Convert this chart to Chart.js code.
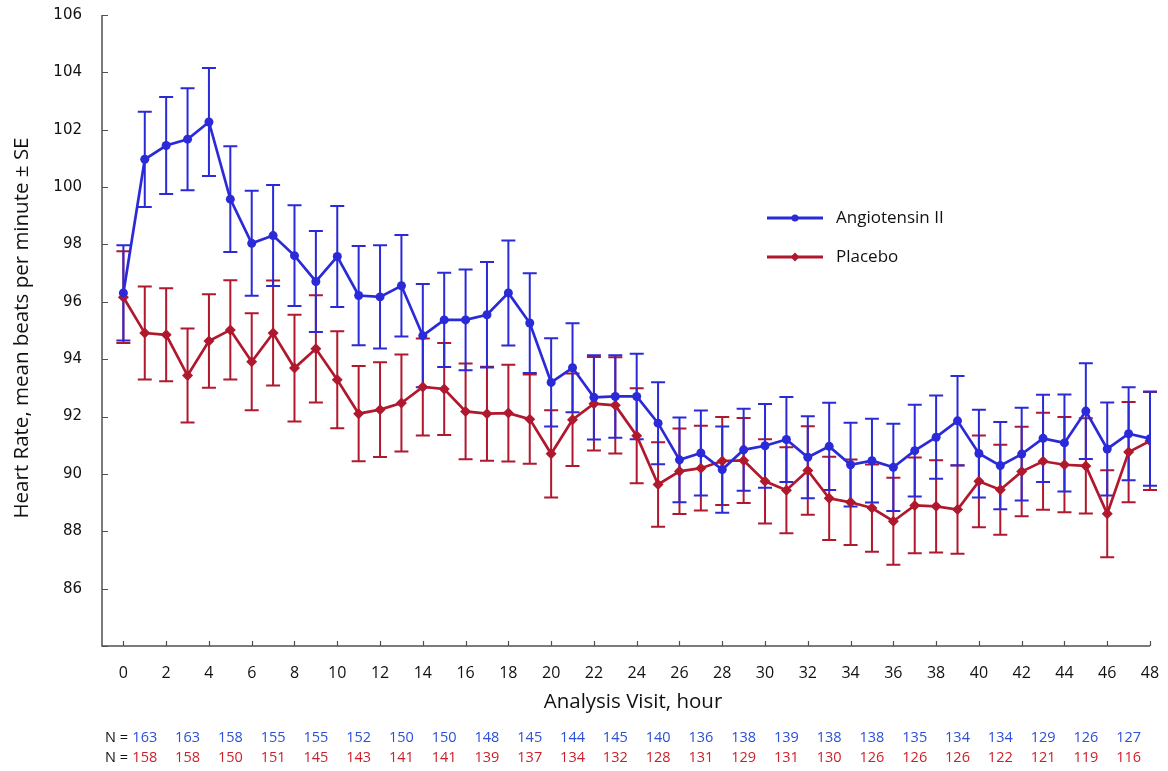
<!DOCTYPE html>
<html>
<head>
<meta charset="utf-8">
<script src="https://cdn.jsdelivr.net/npm/chart.js@4.4.1/dist/chart.umd.min.js"></script>
<style>
html,body{margin:0;padding:0;background:#fff;}
#wrap{position:relative;width:1168px;height:771px;}
</style>
</head>
<body>
<div id="wrap"><canvas id="c" width="1168" height="771"></canvas></div>
<script>
const hours = [0,1,2,3,4,5,6,7,8,9,10,11,12,13,14,15,16,17,18,19,20,21,22,23,24,25,26,27,28,29,30,31,32,33,34,35,36,37,38,39,40,41,42,43,44,45,46,47,48];
const angiotensinMean = [96.31,100.97,101.45,101.67,102.27,99.58,98.04,98.31,97.61,96.71,97.58,96.22,96.17,96.56,94.82,95.37,95.37,95.55,96.31,95.26,93.19,93.70,92.67,92.70,92.70,91.77,90.49,90.73,90.15,90.84,90.98,91.20,90.58,90.96,90.32,90.46,90.23,90.81,91.28,91.85,90.71,90.29,90.69,91.24,91.08,92.19,90.87,91.40,91.23];
const angiotensinSE = [1.66,1.66,1.69,1.78,1.88,1.84,1.83,1.76,1.76,1.76,1.76,1.73,1.80,1.77,1.80,1.64,1.76,1.84,1.83,1.74,1.54,1.55,1.47,1.44,1.49,1.43,1.48,1.48,1.50,1.43,1.46,1.48,1.43,1.52,1.46,1.46,1.52,1.60,1.45,1.56,1.53,1.52,1.62,1.52,1.69,1.67,1.62,1.62,1.64];
const placeboMean = [96.16,94.91,94.85,93.43,94.63,95.02,93.91,94.91,93.69,94.36,93.28,92.10,92.24,92.47,93.03,92.96,92.18,92.10,92.12,91.91,90.70,91.89,92.45,92.39,91.33,89.63,90.09,90.20,90.45,90.47,89.74,89.43,90.12,89.15,89.01,88.81,88.35,88.90,88.87,88.76,89.74,89.45,90.08,90.44,90.32,90.28,88.61,90.76,91.15];
const placeboSE = [1.60,1.62,1.62,1.64,1.63,1.73,1.69,1.83,1.86,1.87,1.69,1.66,1.65,1.69,1.69,1.60,1.67,1.64,1.69,1.56,1.52,1.61,1.63,1.68,1.66,1.47,1.49,1.48,1.53,1.48,1.47,1.50,1.54,1.45,1.49,1.52,1.52,1.67,1.61,1.54,1.60,1.57,1.56,1.69,1.66,1.66,1.52,1.75,1.71];
const xTickValues = [0,2,4,6,8,10,12,14,16,18,20,22,24,26,28,30,32,34,36,38,40,42,44,46,48];
const yTickValues = [84,86,88,90,92,94,96,98,100,102,104,106];
const nHours = [1,3,5,7,9,11,13,15,17,19,21,23,25,27,29,31,33,35,37,39,41,43,45,47];
const angiotensinN = [163,163,158,155,155,152,150,150,148,145,144,145,140,136,138,139,138,138,135,134,134,129,126,127];
const placeboN = [158,158,150,151,145,143,141,141,139,137,134,132,128,131,129,131,130,126,126,126,122,121,119,116];

const BLUE = '#2a2ad8';
const RED = '#b0182e';
const BLUE_TXT = '#2a4fd8';
const RED_TXT = '#cc1f2a';
const AXIS = '#505050';
const SANS = '"Open Sans", Lato, sans-serif';

const errorBars = {
  id: 'errorBars',
  beforeDatasetsDraw(chart) {
    const ctx = chart.ctx, xs = chart.scales.x, ys = chart.scales.y;
    [1, 0].forEach(di => {
      const ds = chart.data.datasets[di];
      ctx.save();
      ctx.strokeStyle = ds.borderColor;
      ctx.lineWidth = 2;
      ds.data.forEach((p, i) => {
        const px = xs.getPixelForValue(p.x);
        const top = ys.getPixelForValue(p.y + ds.errors[i]);
        const bot = ys.getPixelForValue(p.y - ds.errors[i]);
        ctx.beginPath();
        ctx.moveTo(px, top); ctx.lineTo(px, bot);
        ctx.moveTo(px - 7, top); ctx.lineTo(px + 7, top);
        ctx.moveTo(px - 7, bot); ctx.lineTo(px + 7, bot);
        ctx.stroke();
      });
      ctx.restore();
    });
  }
};

const decorations = {
  id: 'decorations',
  afterDraw(chart) {
    const ctx = chart.ctx, xs = chart.scales.x, ys = chart.scales.y, ca = chart.chartArea;
    ctx.save();
    // axes
    ctx.strokeStyle = AXIS;
    ctx.lineWidth = 1.5;
    ctx.beginPath();
    ctx.moveTo(ca.left, ca.top); ctx.lineTo(ca.left, ca.bottom); ctx.lineTo(ca.right, ca.bottom);
    ctx.stroke();
    ctx.lineWidth = 1.2;
    ctx.beginPath();
    yTickValues.forEach(v => { const py = Math.round(ys.getPixelForValue(v)) + 0.5; ctx.moveTo(ca.left, py); ctx.lineTo(ca.left + 6, py); });
    xTickValues.forEach(v => { const px = Math.round(xs.getPixelForValue(v)) + 0.5; ctx.moveTo(px, ca.bottom); ctx.lineTo(px, ca.bottom - 5); });
    ctx.stroke();

    // axis titles
    ctx.fillStyle = '#111';
    ctx.font = '20.5px ' + SANS;
    ctx.textAlign = 'center';
    ctx.textBaseline = 'middle';
    ctx.fillText('Analysis Visit, hour', 633, 702);
    ctx.save();
    ctx.translate(22, 328);
    ctx.rotate(-Math.PI / 2);
    ctx.fillText('Heart Rate, mean beats per minute \u00B1 SE', 0, 0);
    ctx.restore();

    // legend
    const legendItems = [
      { ds: chart.data.datasets[0], y: 218 },
      { ds: chart.data.datasets[1], y: 257 }
    ];
    legendItems.forEach(it => {
      ctx.strokeStyle = it.ds.borderColor;
      ctx.fillStyle = it.ds.borderColor;
      ctx.lineWidth = 3;
      ctx.beginPath(); ctx.moveTo(767, it.y); ctx.lineTo(823, it.y); ctx.stroke();
      ctx.beginPath();
      if (it.ds.pointStyle === 'circle') {
        ctx.arc(795, it.y, 3.5, 0, Math.PI * 2);
      } else {
        ctx.moveTo(795, it.y - 4.5); ctx.lineTo(799.5, it.y); ctx.lineTo(795, it.y + 4.5); ctx.lineTo(790.5, it.y); ctx.closePath();
      }
      ctx.fill();
      ctx.fillStyle = '#111';
      ctx.font = '17px ' + SANS;
      ctx.textAlign = 'left';
      ctx.fillText(it.ds.label, 836, it.y);
    });

    // N rows
    ctx.font = '14.5px ' + SANS;
    ctx.textBaseline = 'middle';
    [[angiotensinN, BLUE_TXT, 738], [placeboN, RED_TXT, 758]].forEach(([arr, col, y]) => {
      ctx.fillStyle = '#111';
      ctx.textAlign = 'right';
      ctx.fillText('N =', 128, y);
      ctx.fillStyle = col;
      ctx.textAlign = 'center';
      arr.forEach((n, i) => ctx.fillText(String(n), xs.getPixelForValue(nHours[i]), y));
    });
    ctx.restore();
  }
};

new Chart(document.getElementById('c'), {
  type: 'line',
  data: {
    datasets: [
      {
        label: 'Angiotensin II',
        data: hours.map((h, i) => ({ x: h, y: angiotensinMean[i] })),
        errors: angiotensinSE,
        borderColor: BLUE,
        backgroundColor: BLUE,
        borderWidth: 2.7,
        pointStyle: 'circle',
        pointRadius: 4.5,
        pointBorderWidth: 0,
        tension: 0
      },
      {
        label: 'Placebo',
        data: hours.map((h, i) => ({ x: h, y: placeboMean[i] })),
        errors: placeboSE,
        borderColor: RED,
        backgroundColor: RED,
        borderWidth: 2.7,
        pointStyle: 'rectRot',
        pointRadius: 5.5,
        pointBorderWidth: 0,
        tension: 0
      }
    ]
  },
  options: {
    responsive: false,
    animation: false,
    events: [],
    layout: { padding: { top: 15, right: 18, left: 0, bottom: 0 } },
    plugins: { legend: { display: false }, tooltip: { enabled: false } },
    scales: {
      x: {
        type: 'linear',
        min: -1,
        max: 48,
        afterBuildTicks: s => { s.ticks = xTickValues.map(v => ({ value: v })); },
        afterFit: s => { s.height = 125; s.paddingLeft = 0; s.paddingRight = 0; s.paddingTop = 0; s.paddingBottom = 0; },
        grid: { display: false, drawTicks: false },
        border: { display: false },
        ticks: { padding: 18, color: '#111', font: { family: SANS, size: 16 }, maxRotation: 0, autoSkip: false }
      },
      y: {
        min: 84,
        max: 106,
        afterBuildTicks: s => { s.ticks = yTickValues.map(v => ({ value: v })); },
        afterFit: s => { s.width = 102; s.paddingLeft = 0; s.paddingRight = 0; s.paddingTop = 0; s.paddingBottom = 0; },
        grid: { display: false, drawTicks: false },
        border: { display: false },
        ticks: {
          padding: 20,
          color: '#111',
          font: { family: '"DejaVu Sans", Verdana, sans-serif', size: 15 },
          callback: v => (v === 84 ? '' : String(v))
        }
      }
    }
  },
  plugins: [errorBars, decorations]
});
</script>
</body>
</html>
